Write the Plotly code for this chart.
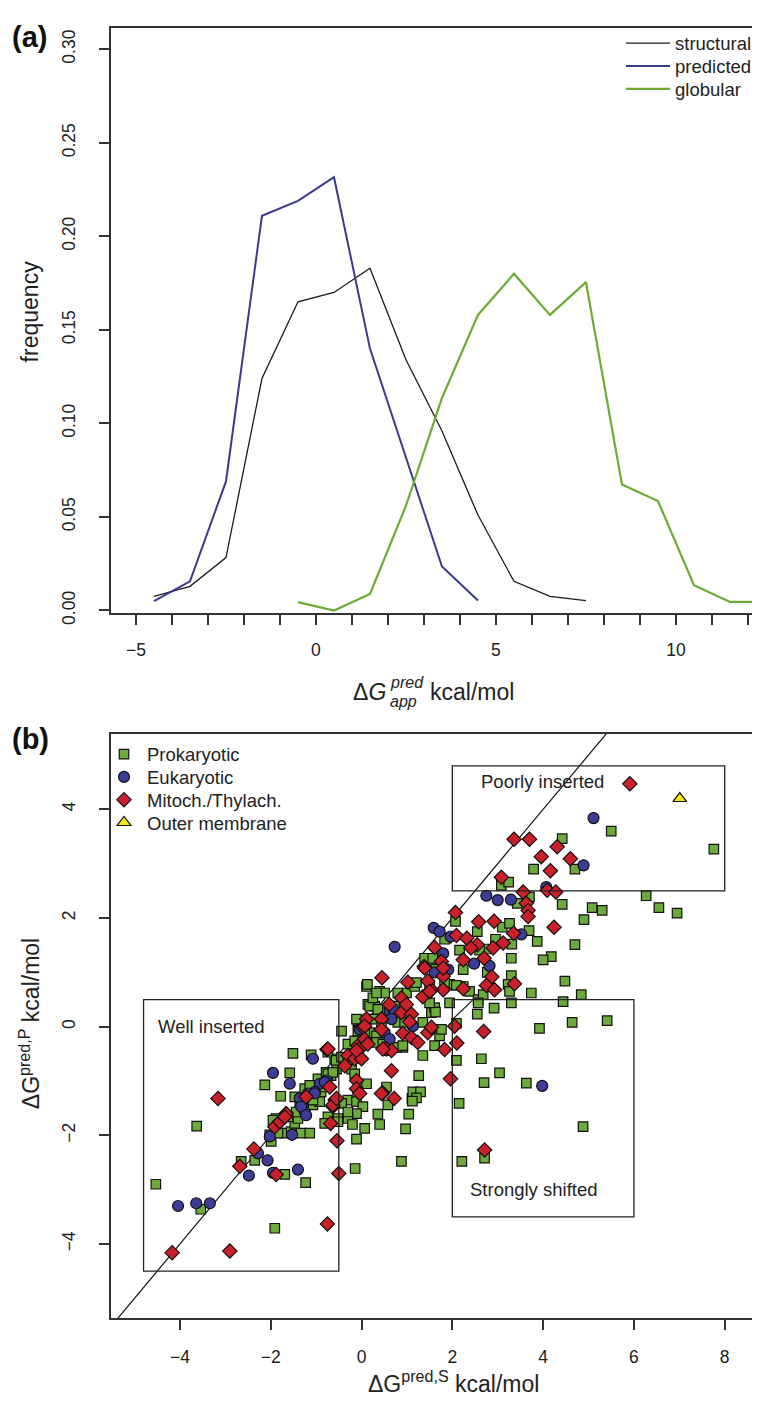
import plotly.graph_objects as go

# ---------------- Panel (a) data ----------------
structural_x = [-4.5, -3.5, -2.5, -1.5, -0.5, 0.5, 1.5, 2.5, 3.5, 4.5, 5.5, 6.5, 7.5]
structural_y = [0.0076, 0.0129, 0.0283, 0.124, 0.165, 0.170, 0.183, 0.134, 0.096, 0.051, 0.0156, 0.0076, 0.0053]
predicted_x = [-4.5, -3.5, -2.5, -1.5, -0.5, 0.5, 1.5, 2.5, 3.5, 4.5]
predicted_y = [0.005, 0.0156, 0.069, 0.211, 0.219, 0.2316, 0.140, 0.082, 0.0235, 0.0053]
globular_x = [-0.5, 0.5, 1.5, 2.5, 3.5, 4.5, 5.5, 6.5, 7.5, 8.5, 9.5, 10.5, 11.5, 12.5]
globular_y = [0.0045, 0.0, 0.0088, 0.056, 0.1136, 0.158, 0.180, 0.158, 0.1755, 0.0673, 0.0585, 0.0135, 0.0046, 0.0046]

a_xticks = [-5, 0, 5, 10]
a_xtick_labels = ["\u22125", "0", "5", "10"]
a_yticks = [0.0, 0.05, 0.10, 0.15, 0.20, 0.25, 0.30]
a_ytick_labels = ["0.00", "0.05", "0.10", "0.15", "0.20", "0.25", "0.30"]

# ---------------- Panel (b) data ----------------
prok_x = [-4.53, -3.63, -3.54, -1.91, -1.23, -1.69, -2.35, -2.65, -1.99, -2.02, -1.69, -1.84, -1.33, -1.14,
          -1.55, -1.47, -1.40, -1.33, -1.07, -1.00, -0.89, -0.96, -0.78, -0.67, -0.55, -0.59, -0.74, -1.11,
          -1.51, -1.58, -2.13, -1.78, -1.47, -1.36, -1.25, -1.14, -0.81, -0.74, -0.63, -0.56, -0.44, -0.30,
          -0.15, -0.08, 0.03, 0.14, -0.08, -0.30, -0.22, -0.15, -0.30, -0.11, 0.11, 0.03, -0.11, -0.30,
          -0.52, -0.74, -0.92, -1.07, -1.29, -1.44, -1.62, -1.88, -1.95, 0.14, 0.11, -0.44, -0.44, -0.30,
          0.03, 0.18, 0.29, 0.44, 0.40, 0.51, 0.29, -0.14, -0.11, 0.07, -0.20, 0.36, 0.40, -0.81, -0.52,
          0.88, 0.97, 1.04, 1.11, 1.13, 1.30, 1.26, 1.35, 0.91, 1.72, 0.58, 0.55, 1.21, 1.12, 2.09, 2.64,
          2.15, 3.04, 2.70, 3.63, 4.88, 2.21, 2.71, 5.41, 4.64, 3.92, 2.55, 2.09,
          0.07, 0.33, 0.18, 0.25, 0.40, 0.51, 0.36, 0.73, 0.77, 0.80, 0.95, 0.33, 0.47, 0.55, 0.77, 0.91,
          1.61, 1.76, 1.35, 1.54, 1.61, 1.94, 2.38, 2.24, 0.99, 1.17, 1.50, 1.94, 2.57, 2.68, 0.13, 0.33,
          -0.11,
          5.50, 7.76, 4.42, 3.79, 4.70, 3.08, 3.24, 3.70, 3.43, 6.27, 6.55, 6.95, 4.42, 5.08, 5.30, 4.90,
          4.70, 3.87, 3.69, 4.18, 4.00, 3.31, 3.30, 3.30, 3.23, 3.26, 3.74, 4.48, 4.84, 4.44, 3.30, 2.57,
          2.92, 2.55, 3.10, 3.26, 2.95, 2.75, 2.77, 2.24, 2.16, 2.07, 1.87, 1.54, 1.63, 1.83, 2.09, 1.63,
          1.50, 1.21, 0.80, 1.83, 2.60, 1.39, 1.57]
prok_y = [-2.90, -1.83, -3.36, -3.71, -2.87, -2.72, -2.46, -2.48, -2.11, -1.99, -1.96, -1.96, -1.96, -1.96,
          -1.93, -1.78, -1.69, -1.51, -1.44, -1.32, -1.20, -0.96, -0.84, -0.90, -0.78, -0.59, -0.47, -0.52,
          -0.49, -0.85, -1.07, -1.28, -1.29, -1.35, -1.14, -1.08, -1.11, -0.87, -0.84, -0.62, -0.56, -0.32,
          -0.26, -0.08, 0.05, 0.14, 0.11, -0.62, -0.78, -0.87, -1.35, -1.38, -1.05, -1.47, -1.60, -1.69,
          -1.69, -1.66, -1.38, -1.35, -1.32, -1.57, -1.66, -1.69, -1.72, 0.41, 0.74, -0.08, -1.41, -1.57,
          -0.20, -0.11, 0.14, -0.01, -0.23, 0.26, 0.38, -2.61, -2.07, -1.87, -1.80, -1.61, -1.80, -1.78, -1.75,
          -2.48, -1.88, -1.61, -1.32, -1.20, -1.20, -0.90, -0.53, -0.38, -0.17, -1.44, -1.11, -1.31, -1.37, -0.62, -0.59,
          -1.41, -0.85, -1.03, -1.04, -1.84, -2.48, -2.42, 0.11, 0.08, -0.03, 0.23, 0.06,
          -0.14, -0.17, 0.38, 0.53, 0.65, 0.62, 0.32, 0.38, 0.26, 0.08, 0.08, -0.29, -0.32, -0.44, -0.38, -0.35,
          -0.35, -0.05, 0.08, 0.26, 0.35, 0.44, 0.65, 0.74, 0.62, 0.74, 0.74, 0.78, 0.50, 0.59, 0.78, 0.62,
          0.14,
          3.60, 3.27, 3.46, 2.90, 2.90, 2.60, 2.66, 2.39, 2.27, 2.41, 2.19, 2.09, 2.25, 2.19, 2.14, 1.97,
          1.51, 1.57, 1.77, 1.29, 1.23, 1.52, 1.26, 0.94, 0.78, 0.65, 0.62, 0.84, 0.59, 0.46, 0.44, 0.44,
          0.34, 1.75, 1.83, 1.90, 1.61, 1.43, 1.00, 1.05, 1.41, 1.94, 1.63, 1.26, 1.06, 0.81, 0.76, 0.27,
          0.44, 0.81, 0.62, 1.61, 1.41, 1.26, 1.26]

euk_x = [5.11, 4.89, 4.07, 2.75, 3.00, 3.29, 1.59, 1.72, 0.73, 1.96, 3.52, 2.48, 2.82, 1.80, 1.91, 1.61,
         3.98, 1.13, 0.62, 0.69, 0.51, 0.62, 0.66, -1.07, -1.95, -1.58, -0.92, -0.77, -1.03, -1.18, -1.36,
         -1.29, -1.25, -0.04, -4.04, -3.64, -3.34, -2.48, -2.07, -1.95, -1.40, -2.28, -2.02, -1.53, -1.33,
         -1.22, -1.03, -0.81]
euk_y = [3.84, 2.97, 2.57, 2.41, 2.33, 2.34, 1.82, 1.75, 1.47, 1.66, 1.70, 1.16, 1.12, 1.35, 1.05, 1.00,
         -1.09, 0.01, 0.29, 0.33, -0.11, -0.23, 0.14, -0.59, -0.85, -1.05, -1.05, -0.99, -1.20, -1.23, -1.32,
         -1.47, -1.57, -0.05, -3.30, -3.25, -3.25, -2.74, -2.46, -2.69, -2.63, -2.33, -2.02, -1.99, -1.47,
         -1.63, -1.23, -1.02]

mito_x = [5.91, 3.36, 3.70, 4.31, 3.96, 4.60, 4.16, 3.08, 3.56, 4.09, 4.28, 3.63, 3.67, 3.67, 4.24, 2.07,
          2.58, 2.92, 2.09, 2.32, 2.55, 2.41, 3.35, 3.12, 2.90, 1.61, 1.76, 1.38, 2.24, 2.70, 2.87, 3.37,
          2.75, 2.93, 2.24, 1.80, 1.54, 1.02, 0.45, 1.46, 1.80, 1.80,
          2.69, 2.05, 2.10, 1.83, 1.96, 2.71, 0.66, 0.72, 0.47, 0.61, 0.88, 1.35, 1.50, 0.88, 0.99, 0.44,
          1.10, 1.06, 0.03, 0.44, 0.55, 0.66, 0.91, 1.10, 1.24, 1.46, 1.54, 0.11,
          -0.76, -0.30, -0.15, 0.00, -0.08, 0.03, -0.37, -0.11, -0.11, -0.04, -0.58, -0.63, -1.22, 0.07,
          -1.66, -1.70, -3.16, -2.37, -2.68, -1.88, -0.75, -4.17, -2.90, -0.50, -0.54, -0.68, -0.63, -0.55,
          -0.74, -0.70, 0.44, 0.07, 0.14, 0.47, -1.91, -1.80, -1.69, -0.11, 1.39]
mito_y = [4.47, 3.45, 3.45, 3.31, 3.13, 3.09, 2.87, 2.75, 2.48, 2.51, 2.48, 2.27, 2.14, 2.03, 1.83, 2.10,
          1.93, 1.94, 1.68, 1.63, 1.51, 1.45, 1.72, 1.54, 1.45, 1.46, 1.20, 1.11, 1.23, 1.26, 0.92, 0.79,
          0.76, 0.68, 0.70, 0.68, 0.68, 0.82, 0.90, 0.84, 0.93, 1.08,
          -0.09, 0.01, -0.30, -0.42, -0.96, -2.27, -0.81, -1.32, -1.22, 0.41, 0.53, 0.55, 0.65, 0.26, 0.41, 0.14,
          0.23, 0.09, -0.01, -0.05, -0.41, -0.44, -0.12, -0.20, -0.29, -0.11, -0.01, 0.14,
          -0.42, -0.53, -0.59, -0.59, -0.35, -0.35, -0.72, -0.99, -1.14, -1.23, -1.35, -1.47, -1.29, 0.01,
          -1.60, -1.66, -1.32, -2.25, -2.57, -2.72, -3.63, -4.16, -4.13, -2.70, -2.10, -1.78, -1.44, -1.32,
          -0.41, -1.11, -1.23, -0.23, -0.32, -0.41, -1.84, -1.75, -1.66, -0.44, 1.08]

outer_x = [7.01]
outer_y = [4.20]

diag_x = [-6.0, 6.0]
diag_y = [-6.0, 6.0]
shift_x = [2.0, 2.5]
shift_y = [0.13, 0.53]

boxes = {
    "Poorly inserted": (2.0, 8.0, 2.5, 4.8),
    "Well inserted": (-4.8, -0.5, -4.5, 0.5),
    "Strongly shifted": (2.0, 6.0, -3.5, 0.5),
}
box_label_pos = {
    "Poorly inserted": (2.59, 4.52),
    "Well inserted": (-4.53, 0.01),
    "Strongly shifted": (2.35, -3.0),
}

b_xticks = [-4, -2, 0, 2, 4, 6, 8]
b_xtick_labels = ["\u22124", "\u22122", "0", "2", "4", "6", "8"]
b_yticks = [-4, -2, 0, 2, 4]
b_ytick_labels = ["\u22124", "\u22122", "0", "2", "4"]

# ---------------- Figure ----------------
W, H = 760, 1401
FONT = "Liberation Sans, Arial, Helvetica, sans-serif"
AXC = "#333333"
TXT = "#222222"

def px_x(p):
    return p / W

def px_y(p):
    return 1 - p / H

fig = go.Figure()

fig.add_trace(go.Scatter(x=structural_x, y=structural_y, mode="lines", name="structural",
                         line=dict(color="#1a1a1a", width=1.3), xaxis="x", yaxis="y", legend="legend"))
fig.add_trace(go.Scatter(x=predicted_x, y=predicted_y, mode="lines", name="predicted",
                         line=dict(color="#3a3a8f", width=2), xaxis="x", yaxis="y", legend="legend2"))
fig.add_trace(go.Scatter(x=globular_x, y=globular_y, mode="lines", name="globular",
                         line=dict(color="#6cab35", width=2.2), xaxis="x", yaxis="y", legend="legend3"))

fig.add_trace(go.Scatter(x=diag_x, y=diag_y, mode="lines", showlegend=False, hoverinfo="skip",
                         line=dict(color="#111111", width=1.2), xaxis="x2", yaxis="y2"))
fig.add_trace(go.Scatter(x=shift_x, y=shift_y, mode="lines", showlegend=False, hoverinfo="skip",
                         line=dict(color="#111111", width=1.2), xaxis="x2", yaxis="y2"))

mline = dict(color="#111111", width=1.2)
fig.add_trace(go.Scatter(x=prok_x, y=prok_y, mode="markers", name="Prokaryotic",
                         marker=dict(symbol="square", size=9.5, color="#6daa3c", line=mline),
                         xaxis="x2", yaxis="y2", legend="legend4"))
fig.add_trace(go.Scatter(x=euk_x, y=euk_y, mode="markers", name="Eukaryotic",
                         marker=dict(symbol="circle", size=11, color="#3d3d98", line=mline),
                         xaxis="x2", yaxis="y2", legend="legend5"))
fig.add_trace(go.Scatter(x=mito_x, y=mito_y, mode="markers", name="Mitoch./Thylach.",
                         marker=dict(symbol="diamond", size=11, color="#c9202a", line=mline),
                         xaxis="x2", yaxis="y2", legend="legend6"))
fig.add_trace(go.Scatter(x=outer_x, y=outer_y, mode="markers", name="Outer membrane",
                         marker=dict(symbol="triangle-up", size=12, color="#f2e41e", line=mline),
                         xaxis="x2", yaxis="y2", legend="legend7"))

for name, (x0, x1, y0, y1) in boxes.items():
    fig.add_shape(type="rect", xref="x2", yref="y2", x0=x0, x1=x1, y0=y0, y1=y1,
                  line=dict(color="#222222", width=1.3), fillcolor="rgba(0,0,0,0)")
    lx, ly = box_label_pos[name]
    fig.add_annotation(x=lx, y=ly, xref="x2", yref="y2", text=name, showarrow=False,
                       xanchor="left", yanchor="middle", font=dict(size=18.5, color=TXT, family=FONT))

a_dom_x = [px_x(103), 1.0]
a_dom_y = [px_y(610), px_y(20)]
b_dom_x = [px_x(102.7), 1.0]
b_dom_y = [px_y(1321.7), px_y(732.3)]

tickfont = dict(size=17.5, color=TXT, family=FONT)
legfont = dict(size=18.5, color=TXT, family=FONT)

def leg(xp, yp, iw):
    return dict(x=px_x(xp), y=px_y(yp), xanchor="left", yanchor="middle",
                bgcolor="rgba(255,255,255,0)", borderwidth=0, font=legfont, itemwidth=iw)

fig.update_layout(
    width=W, height=H, margin=dict(l=0, r=0, t=0, b=0),
    paper_bgcolor="white", plot_bgcolor="white",
    font=dict(family=FONT, color=TXT),
    showlegend=True,
    xaxis=dict(domain=a_dom_x, range=[-5.694, 12.556], tickvals=a_xticks, ticktext=a_xtick_labels,
               ticks="outside", ticklen=10, tickwidth=1.5, tickcolor=AXC,
               minor=dict(dtick=1, tick0=0, ticks="outside", ticklen=10, tickwidth=1.5, tickcolor=AXC, showgrid=False),
               showline=True, linecolor=AXC, linewidth=1.5, mirror=True,
               showgrid=False, zeroline=False, tickfont=tickfont, ticklabelstandoff=10, anchor="y"),
    yaxis=dict(domain=a_dom_y, range=[-0.00122, 0.31147], tickvals=a_yticks, ticktext=a_ytick_labels,
               ticks="outside", ticklen=10, tickwidth=1.5, tickcolor=AXC, tickangle=-90,
               showline=True, linecolor=AXC, linewidth=1.5, mirror=False,
               showgrid=False, zeroline=False, tickfont=tickfont, ticklabelstandoff=17, anchor="x"),
    xaxis2=dict(domain=b_dom_x, range=[-5.524, 8.953], tickvals=b_xticks, ticktext=b_xtick_labels,
                ticks="outside", ticklen=10, tickwidth=1.5, tickcolor=AXC,
                showline=True, linecolor=AXC, linewidth=1.5, mirror=True,
                showgrid=False, zeroline=False, tickfont=tickfont, ticklabelstandoff=12, anchor="y2"),
    yaxis2=dict(domain=b_dom_y, range=[-5.369, 5.387], tickvals=b_yticks, ticktext=b_ytick_labels,
                ticks="outside", ticklen=10, tickwidth=1.5, tickcolor=AXC, tickangle=-90,
                showline=True, linecolor=AXC, linewidth=1.5, mirror=False,
                showgrid=False, zeroline=False, tickfont=tickfont, ticklabelstandoff=17, anchor="x2"),
    legend=leg(613, 36, 44),
    legend2=leg(613, 59, 44),
    legend3=leg(613, 82, 44),
    legend4=leg(93, 753, 36),
    legend5=leg(93, 776, 36),
    legend6=leg(93, 799, 36),
    legend7=leg(93, 822, 36),
)

# panel labels
fig.add_annotation(x=px_x(2), y=px_y(29), xref="paper", yref="paper", text="<b>(a)</b>", showarrow=False,
                   xanchor="left", yanchor="middle", font=dict(size=29, color="#111111", family=FONT))
fig.add_annotation(x=px_x(2), y=px_y(737), xref="paper", yref="paper", text="<b>(b)</b>", showarrow=False,
                   xanchor="left", yanchor="middle", font=dict(size=29, color="#111111", family=FONT))

# axis titles
title_font = dict(size=23, color=TXT, family=FONT)
sub_font = dict(size=16, color=TXT, family=FONT)
fig.add_annotation(x=px_x(22), y=px_y(306), xref="paper", yref="paper", text="frequency", showarrow=False,
                   textangle=-90, xanchor="center", yanchor="middle", font=title_font)
fig.add_annotation(x=px_x(380), y=px_y(690), xref="paper", yref="paper", text="\u0394<i>G</i>", showarrow=False,
                   xanchor="right", yanchor="middle", font=title_font)
fig.add_annotation(x=px_x(380), y=px_y(680), xref="paper", yref="paper", text="<i>pred</i>", showarrow=False,
                   xanchor="left", yanchor="middle", font=sub_font)
fig.add_annotation(x=px_x(380), y=px_y(699), xref="paper", yref="paper", text="<i>app</i>", showarrow=False,
                   xanchor="left", yanchor="middle", font=sub_font)
fig.add_annotation(x=px_x(420), y=px_y(690), xref="paper", yref="paper", text="kcal/mol", showarrow=False,
                   xanchor="left", yanchor="middle", font=title_font)

fig.add_annotation(x=px_x(22), y=px_y(1025), xref="paper", yref="paper",
                   text="\u0394G<sup>pred,P</sup> kcal/mol", showarrow=False,
                   textangle=-90, xanchor="center", yanchor="middle", font=title_font)
fig.add_annotation(x=px_x(445), y=px_y(1386), xref="paper", yref="paper",
                   text="\u0394G<sup>pred,S</sup> kcal/mol", showarrow=False,
                   xanchor="center", yanchor="middle", font=title_font)

fig.write_html("out.html")
